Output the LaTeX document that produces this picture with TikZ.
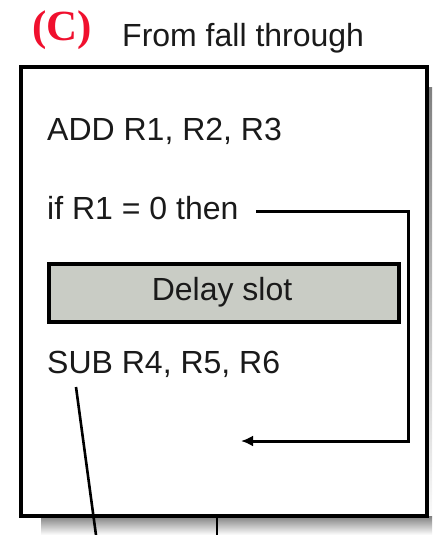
\documentclass[tikz,border=0pt]{standalone}
\usepackage{fontspec}
\setmainfont{Liberation Sans}
\newfontfamily\serifbold{Liberation Serif}
\usetikzlibrary{arrows.meta}
\definecolor{txt}{HTML}{1A1A1A}
\definecolor{shade}{HTML}{3E413E}
\definecolor{slotfill}{HTML}{C9CCC5}
\definecolor{labred}{HTML}{F0102E}
\tikzset{
  code/.style={anchor=base west, inner sep=0pt, text=txt, font=\fontsize{32}{32}\selectfont},
  frame/.style={draw=black, line width=3.6pt},
  wire/.style={draw=black, line width=3pt},
  thin wire/.style={draw=black, line width=2.6pt}
}
\begin{document}
\begin{tikzpicture}[x=1pt,y=-1pt]
\useasboundingbox (0,0) rectangle (432,535);
% shadow
\fill[shade] (426,87) rectangle (432,535);
\fill[shade] (41,516) rectangle (432,535);
% main frame
\node[frame, fill=white, inner sep=0pt, minimum width=406pt, minimum height=448.5pt, anchor=north west] (frame) at (19,65.5) {};
% title
\node[anchor=base west, inner sep=0pt, text=labred, font=\serifbold\bfseries\fontsize{43}{43}\selectfont] (lab) at (32,41) {(C)};
\node[anchor=base west, inner sep=0pt, text=txt, font=\fontsize{32}{32}\selectfont] (title) at (122,47) {From fall through};
% code
\node[code] (add) at (47,140) {ADD R1, R2, R3};
\node[code] (iff) at (47,219) {if R1 = 0 then};
\node[frame, fill=slotfill, inner sep=0pt, minimum width=350pt, minimum height=58pt, anchor=north west] (slot) at (47,262) {};
\node[code, anchor=base] (slottxt) at (222,300) {Delay slot};
\node[code] (sub) at (47,373) {SUB R4, R5, R6};
% branch connector
\coordinate (bstart) at (256,211);
\coordinate (bcorner1) at (408,211);
\coordinate (bcorner2) at (408,441);
\coordinate (btarget) at (241,441);
\draw[wire, -{Latex[length=12pt,width=11pt]}] (bstart) -- (bcorner1) -- (bcorner2) -- (btarget);
% lines leaving the frame
\coordinate (s1) at (76,387);
\coordinate (s2) at (96,535);
\draw[thin wire] (s1) -- (s2);
\coordinate (v1) at (217,514);
\coordinate (v2) at (217,535);
\draw[thin wire] (v1) -- (v2);
\end{tikzpicture}
\end{document}
